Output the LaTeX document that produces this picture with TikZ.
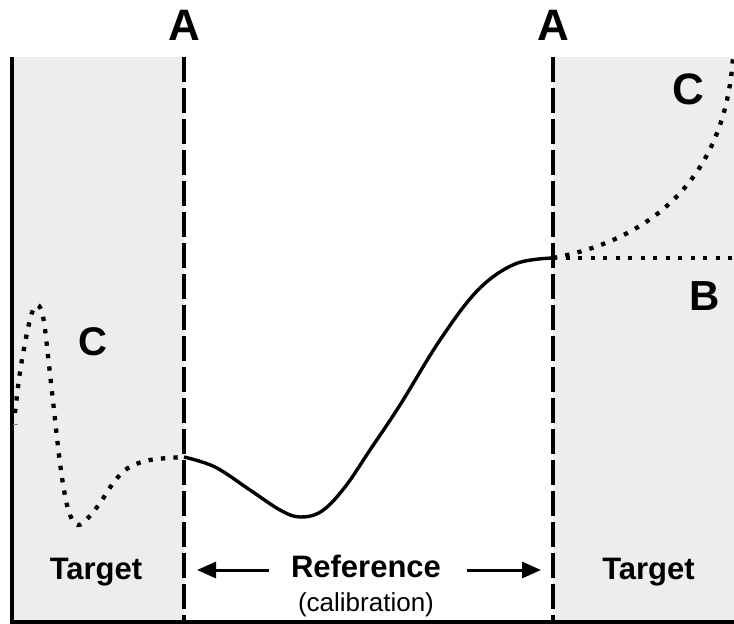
\documentclass[tikz,border=0pt]{standalone}
\usepackage{fontspec}
\setmainfont{Liberation Sans}
\usetikzlibrary{arrows.meta}
\definecolor{zonegray}{HTML}{EEEDEC}
\begin{document}
\begin{tikzpicture}[x=1pt,y=-1pt,
  zone/.style={fill=zonegray,draw=none},
  divider/.style={line width=3.4pt,dash pattern=on 25pt off 6pt},
  solidcurve/.style={line width=3.4pt},
  dotcurve/.style={line width=4.3pt,dash pattern=on 4.3pt off 8.2pt},
  biglabel/.style={font=\fontsize{44}{44}\selectfont\bfseries,anchor=base,inner sep=0pt},
  midlabel/.style={font=\fontsize{31}{31}\selectfont\bfseries,anchor=base,inner sep=0pt},
  smalllabel/.style={font=\fontsize{26}{26}\selectfont,anchor=base,inner sep=0pt},
  arr/.style={line width=3pt,-{Triangle[length=19pt,width=16pt]}}]
\useasboundingbox (0,0) rectangle (734,624);
% shaded target zones
\fill[zone] (12,57) rectangle (184,622);
\fill[zone] (553,57) rectangle (734,622);
% frame lines
\coordinate (lt) at (12,57);
\coordinate (lb) at (12,622);
\coordinate (rb) at (734,622);
\draw[line width=3.4pt] (lt) -- (lb);
\draw[line width=3.4pt] (10.3,622) -- (rb);
\draw[line width=0.8pt,gray] (13,424) -- (18,424);
% dividers
\coordinate (d1t) at (184,57);
\coordinate (d1b) at (184,622);
\coordinate (d2t) at (553,57);
\coordinate (d2b) at (553,622);
\draw[divider] (d1t) -- (d1b);
\draw[divider] (d2t) -- (d2b);
% left dotted curve C
\draw[dotcurve] plot[smooth,tension=0.6] coordinates {(15,413) (20,372) (27,333) (33,310) (39,306) (44,322) (49,365) (54,410) (59,455) (64,490) (70,515) (78,525) (88,518) (100,503) (114,482) (128,468) (150,460) (184,457)};
% solid reference curve
\coordinate (p0) at (184,457);
\coordinate (p1) at (553,258);
\draw[solidcurve] plot[smooth,tension=0.6] coordinates {(184,457) (215,467) (250,490) (280,510) (300,517) (322,511) (345,487) (370,450) (400,405) (440,340) (478,290) (515,264) (553,258)};
% right dotted curves
\coordinate (bend) at (734,258);
\coordinate (cend) at (733,57);
\draw[dotcurve] (p1) -- (bend);
\draw[dotcurve] (p1) .. controls (650,240) and (725,180) .. (cend);
% labels
\node[biglabel] (a1) at (184,40) {A};
\node[biglabel] (a2) at (553,40) {A};
\node[font=\fontsize{40}{40}\selectfont\bfseries,anchor=base,inner sep=0pt] (cl) at (92.5,355) {C};
\node[biglabel] (cr) at (688,104) {C};
\node[font=\fontsize{42}{42}\selectfont\bfseries,anchor=base,inner sep=0pt] (bl) at (705,310) {B};
\node[midlabel] (t1) at (96,579) {Target};
\node[midlabel] (t2) at (648.5,579) {Target};
\node[midlabel] (ref) at (366,577) {Reference};
\node[smalllabel] (cal) at (366,611) {(calibration)};
% arrows
\coordinate (la) at (269,570);
\coordinate (lt2) at (197,570);
\coordinate (ra) at (467,570);
\coordinate (rt2) at (541,570);
\draw[arr] (la) -- (lt2);
\draw[arr] (ra) -- (rt2);
\end{tikzpicture}
\end{document}
